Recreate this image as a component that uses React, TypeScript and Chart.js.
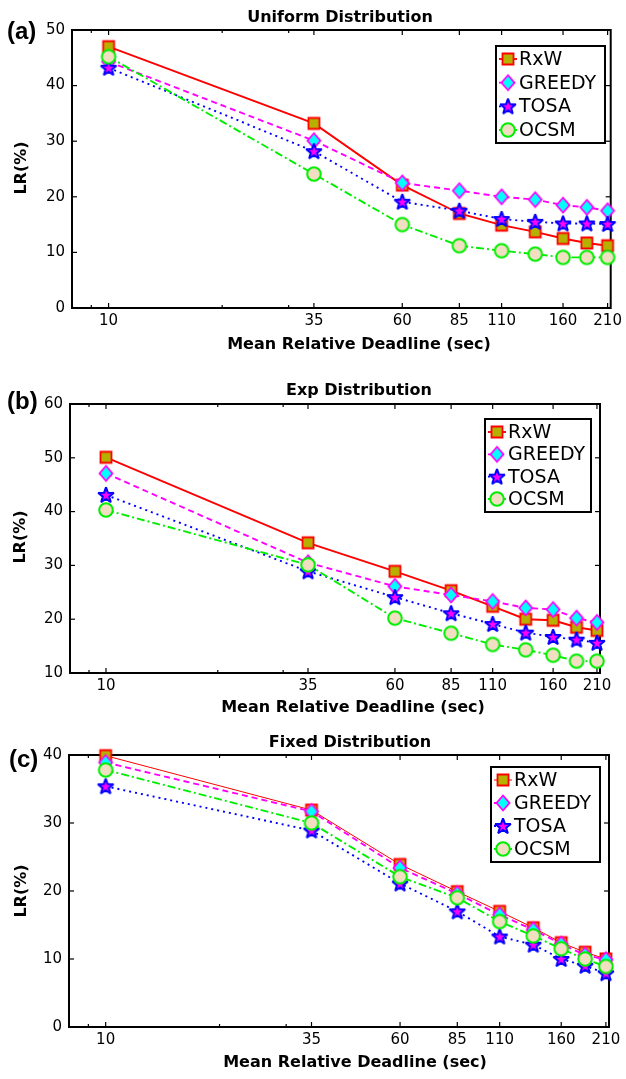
import React, { useEffect, useRef } from 'react';
import { Chart, registerables } from 'chart.js';

Chart.register(...registerables);

const FONT = '"DejaVu Sans", sans-serif';
const LETTER_FONT = '"Liberation Sans", Arial, sans-serif';

// ---------- data ----------
const X_VALUES = [10, 35, 60, 85, 110, 135, 160, 185, 210];
const X_TICKS = [10, 35, 60, 85, 110, 160, 210];
const X_MINOR_TICKS = [9, 20, 30];
const X_AXIS_MIN = 8;
const X_AXIS_MAX = 214;
const SERIES_NAMES = ['RxW', 'GREEDY', 'TOSA', 'OCSM'];

const UNIFORM_RXW = [47.0, 33.2, 22.1, 17.0, 14.9, 13.7, 12.5, 11.7, 11.2];
const UNIFORM_GREEDY = [44.3, 30.1, 22.5, 21.1, 20.0, 19.5, 18.5, 18.1, 17.5];
const UNIFORM_TOSA = [43.2, 28.2, 19.1, 17.5, 16.0, 15.5, 15.2, 15.2, 15.1];
const UNIFORM_OCSM = [45.2, 24.1, 15.0, 11.2, 10.3, 9.7, 9.1, 9.1, 9.1];

const EXP_RXW = [50.1, 34.2, 28.9, 25.3, 22.4, 20.0, 19.8, 18.5, 17.9];
const EXP_GREEDY = [47.1, 30.5, 26.1, 24.5, 23.3, 22.1, 21.8, 20.2, 19.4];
const EXP_TOSA = [43.1, 28.9, 24.1, 21.1, 19.1, 17.5, 16.7, 16.2, 15.6];
const EXP_OCSM = [40.3, 30.1, 20.2, 17.4, 15.3, 14.3, 13.3, 12.2, 12.2];

const FIXED_RXW = [39.9, 31.9, 23.9, 19.9, 17.0, 14.6, 12.4, 11.0, 10.0];
const FIXED_GREEDY = [38.9, 31.7, 23.4, 19.6, 16.5, 14.3, 12.2, 10.6, 9.9];
const FIXED_TOSA = [35.4, 28.9, 21.1, 17.0, 13.3, 12.1, 10.0, 9.0, 7.9];
const FIXED_OCSM = [37.8, 30.0, 22.1, 19.0, 15.5, 13.4, 11.5, 10.0, 8.9];

// ---------- styles ----------
const SERIES_STYLE = [
  { color: '#ff0000', dash: [] as number[], marker: 'square' },
  { color: '#ff00ff', dash: [6, 4], marker: 'diamond' },
  { color: '#0000ff', dash: [2, 4], marker: 'star' },
  { color: '#00ee00', dash: [8, 3, 2, 3], marker: 'circle' },
];

const W = 626;

const PANELS = [
  {
    key: 'a', letter: '(a)', title: 'Uniform Distribution',
    series: [UNIFORM_RXW, UNIFORM_GREEDY, UNIFORM_TOSA, UNIFORM_OCSM],
    yMin: 0, yMax: 50, top: 0, height: 360,
    area: { left: 72, right: 613, top: 30, bottom: 308 },
    titleX: 340, titleY: 17.5, xTitleX: 359, xTitleY: 345, yTitleX: 22, yTitleY: 168,
    letterX: 7, letterY: 32,
    legend: { left: 496, top: 46, width: 109, height: 97 },
    redWidth: 1.9,
  },
  {
    key: 'b', letter: '(b)', title: 'Exp Distribution',
    series: [EXP_RXW, EXP_GREEDY, EXP_TOSA, EXP_OCSM],
    yMin: 10, yMax: 60, top: 360, height: 360,
    area: { left: 70, right: 600, top: 44, bottom: 313 },
    titleX: 359, titleY: 31, xTitleX: 353, xTitleY: 348, yTitleX: 21, yTitleY: 177,
    letterX: 7, letterY: 42,
    legend: { left: 485, top: 59, width: 106, height: 93 },
    redWidth: 1.9,
  },
  {
    key: 'c', letter: '(c)', title: 'Fixed Distribution',
    series: [FIXED_RXW, FIXED_GREEDY, FIXED_TOSA, FIXED_OCSM],
    yMin: 0, yMax: 40, top: 720, height: 359,
    area: { left: 69, right: 609, top: 35, bottom: 307 },
    titleX: 350, titleY: 23, xTitleX: 355, xTitleY: 343, yTitleX: 22, yTitleY: 171,
    letterX: 9, letterY: 40,
    legend: { left: 491, top: 47, width: 109, height: 95 },
    redWidth: 1.0,
  },
];

function makeMarker(kind: string): HTMLCanvasElement {
  const c = document.createElement('canvas');
  const S = 22;
  c.width = S;
  c.height = S;
  const g = c.getContext('2d') as CanvasRenderingContext2D;
  const m = S / 2;
  g.lineJoin = 'miter';
  g.miterLimit = 2;
  if (kind === 'square') {
    g.fillStyle = '#b6b100';
    g.strokeStyle = '#ff0000';
    g.lineWidth = 1.8;
    g.beginPath();
    g.rect(m - 5.5, m - 5.5, 11, 11);
    g.fill();
    g.stroke();
  } else if (kind === 'diamond') {
    g.fillStyle = '#00ffff';
    g.strokeStyle = '#ff00ff';
    g.lineWidth = 1.8;
    g.beginPath();
    g.moveTo(m, m - 7.5);
    g.lineTo(m + 6.5, m);
    g.lineTo(m, m + 7.5);
    g.lineTo(m - 6.5, m);
    g.closePath();
    g.fill();
    g.stroke();
  } else if (kind === 'star') {
    g.fillStyle = '#ff00ff';
    g.strokeStyle = '#0000ff';
    g.lineWidth = 2;
    g.beginPath();
    for (let i = 0; i < 10; i++) {
      const r = i % 2 === 0 ? 8.2 : 3.4;
      const a = -Math.PI / 2 + (i * Math.PI) / 5;
      const px = m + r * Math.cos(a);
      const py = m + 0.6 + r * Math.sin(a);
      if (i === 0) g.moveTo(px, py);
      else g.lineTo(px, py);
    }
    g.closePath();
    g.fill();
    g.stroke();
  } else {
    g.fillStyle = '#f2dfc2';
    g.strokeStyle = '#00ee00';
    g.lineWidth = 2;
    g.beginPath();
    g.arc(m, m, 6.8, 0, Math.PI * 2);
    g.fill();
    g.stroke();
  }
  return c;
}

type PanelDef = (typeof PANELS)[number];

function Panel({ panel }: { panel: PanelDef }) {
  const ref = useRef<HTMLCanvasElement>(null);
  useEffect(() => {
    const canvas = ref.current;
    if (!canvas) return;
    const H = panel.height;
    const area = panel.area;
    const markers = SERIES_STYLE.map((s) => makeMarker(s.marker));

    const datasets = panel.series.map((vals, i) => ({
      label: SERIES_NAMES[i],
      data: X_VALUES.map((x, j) => ({ x, y: vals[j] })),
      borderColor: SERIES_STYLE[i].color,
      backgroundColor: 'transparent',
      borderWidth: i === 0 ? panel.redWidth : 1.9,
      borderDash: SERIES_STYLE[i].dash,
      borderCapStyle: 'butt' as const,
      pointStyle: markers[i],
      pointRadius: 7,
      pointHoverRadius: 7,
      fill: false,
      tension: 0,
      clip: false as any,
      order: 4 - i,
    }));

    const decor = {
      id: 'decor' + panel.key,
      beforeDatasetsDraw(chart: any) {
        const { ctx, chartArea: a, scales } = chart;
        const xs = scales.x;
        const ys = scales.y;
        ctx.save();
        ctx.strokeStyle = '#000';
        ctx.lineWidth = 1.2;
        const seg = (x1: number, y1: number, x2: number, y2: number) => {
          ctx.beginPath();
          ctx.moveTo(x1, y1);
          ctx.lineTo(x2, y2);
          ctx.stroke();
        };
        X_TICKS.forEach((v) => {
          const px = xs.getPixelForValue(v);
          seg(px, a.bottom, px, a.bottom - 5);
          seg(px, a.top, px, a.top + 5);
        });
        X_MINOR_TICKS.forEach((v) => {
          const px = xs.getPixelForValue(v);
          seg(px, a.bottom, px, a.bottom - 3);
          seg(px, a.top, px, a.top + 3);
        });
        ys.ticks.forEach((t: any) => {
          const py = ys.getPixelForValue(t.value);
          seg(a.left, py, a.left + 5, py);
          seg(a.right, py, a.right - 5, py);
        });
        ctx.lineWidth = 2;
        ctx.strokeRect(a.left, a.top, a.right - a.left, a.bottom - a.top);
        ctx.restore();
      },
      afterDatasetsDraw(chart: any) {
        const { ctx } = chart;
        const L = panel.legend;
        ctx.save();
        ctx.fillStyle = '#fff';
        ctx.fillRect(L.left, L.top, L.width, L.height);
        ctx.strokeStyle = '#000';
        ctx.lineWidth = 2;
        ctx.strokeRect(L.left, L.top, L.width, L.height);
        const step = (L.height - 26) / 3;
        SERIES_NAMES.forEach((name, i) => {
          const cy = L.top + 13 + i * step;
          const mx = L.left + 12;
          ctx.save();
          ctx.strokeStyle = SERIES_STYLE[i].color;
          ctx.lineWidth = i === 0 ? panel.redWidth : 1.9;
          ctx.setLineDash(SERIES_STYLE[i].dash);
          ctx.beginPath();
          ctx.moveTo(mx - 9, cy);
          ctx.lineTo(mx + 9, cy);
          ctx.stroke();
          ctx.restore();
          ctx.drawImage(markers[i], mx - 11, cy - 11);
          ctx.fillStyle = '#000';
          ctx.font = `19px ${FONT}`;
          ctx.textAlign = 'left';
          ctx.textBaseline = 'middle';
          ctx.fillText(name, L.left + 23, cy + 1);
        });
        ctx.restore();
      },
      afterDraw(chart: any) {
        const { ctx } = chart;
        ctx.save();
        ctx.fillStyle = '#000';
        ctx.textBaseline = 'middle';
        ctx.textAlign = 'center';
        ctx.font = `bold 16px ${FONT}`;
        ctx.fillText(panel.title, panel.titleX, panel.titleY);
        ctx.fillText('Mean Relative Deadline (sec)', panel.xTitleX, panel.xTitleY);
        ctx.save();
        ctx.translate(panel.yTitleX, panel.yTitleY);
        ctx.rotate(-Math.PI / 2);
        ctx.fillText('LR(%)', 0, 0);
        ctx.restore();
        ctx.textAlign = 'left';
        ctx.font = `bold 24px ${LETTER_FONT}`;
        ctx.fillText(panel.letter, panel.letterX, panel.letterY);
        ctx.restore();
      },
    };

    const chart = new Chart(canvas, {
      type: 'line',
      data: { datasets: datasets as any },
      options: {
        responsive: false,
        animation: false,
        devicePixelRatio: 1,
        events: [],
        layout: { padding: { top: area.top, right: W - area.right, left: 0, bottom: 0 } },
        plugins: {
          legend: { display: false },
          title: { display: false },
          tooltip: { enabled: false },
        },
        scales: {
          x: {
            type: 'logarithmic',
            position: 'bottom',
            min: X_AXIS_MIN,
            max: X_AXIS_MAX,
            afterBuildTicks: (s: any) => {
              s.ticks = X_TICKS.map((v) => ({ value: v }));
            },
            afterFit: (s: any) => {
              s.height = H - area.bottom;
            },
            ticks: {
              callback: (v: any) => String(v),
              color: '#000',
              font: { family: FONT, size: 15 },
              padding: 4,
              autoSkip: false,
              maxRotation: 0,
              minRotation: 0,
            },
            grid: { display: false, drawTicks: false },
            border: { display: false },
          },
          y: {
            type: 'linear',
            position: 'left',
            min: panel.yMin,
            max: panel.yMax,
            afterFit: (s: any) => {
              s.width = area.left;
            },
            ticks: {
              stepSize: 10,
              color: '#000',
              font: { family: FONT, size: 15 },
              padding: 7,
            },
            grid: { display: false, drawTicks: false },
            border: { display: false },
          },
        },
      } as any,
      plugins: [decor],
    });
    return () => chart.destroy();
  }, [panel]);

  return (
    <canvas
      ref={ref}
      width={W}
      height={panel.height}
      style={{ position: 'absolute', left: 0, top: panel.top, width: W, height: panel.height }}
    />
  );
}

export default function App() {
  return (
    <div style={{ position: 'absolute', left: 0, top: 0, width: W, height: 1079, background: '#fff', overflow: 'hidden' }}>
      {PANELS.map((p) => (
        <Panel key={p.key} panel={p} />
      ))}
    </div>
  );
}
